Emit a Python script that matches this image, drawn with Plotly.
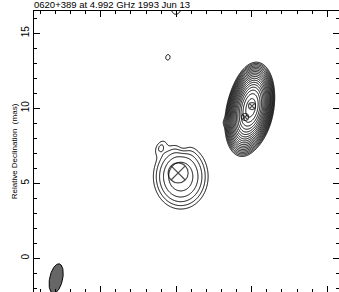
import numpy as np
import plotly.graph_objects as go

# ---- data: model components of the map (RA offset, Dec offset in mas, peak in units of lowest contour) ----
comp_ra   = [0.00, 0.40, 1.60, 4.70, 6.05, 4.55, 5.55, 5.00]
comp_dec  = [10.15, 9.45, 9.05, 5.45, 7.45, 7.30, 13.40, 16.65]
comp_peak = [560.0, 170.0, 0.9, 5.6, 1.0, -0.5, 1.12, 1.5]
comp_maj  = [1.95, 1.95, 0.70, 2.75, 1.00, 0.80, 0.90, 1.00]
comp_min  = [0.98, 0.98, 0.50, 2.30, 0.60, 0.70, 0.70, 0.80]
comp_pa   = [-8.0, -8.0, 90.0, 0.0, -30.0, 0.0, -10.0, -10.0]

# contour levels: lowest level 1, factor sqrt(2)
level_ratio = np.sqrt(2.0)
n_levels = 20

# model-fit component markers
mark_ra   = [4.87, -0.02, 0.44]
mark_dec  = [5.69, 10.15, 9.42]
mark_size = [20, 7, 7]

# restoring beam
beam_ra, beam_dec = 12.95, -1.35
beam_maj, beam_min, beam_pa = 2.0, 0.86, -12.0

title_text = "0620+389 at 4.992 GHz 1993 Jun 13"
ylabel_text = "Relative Declination  (mas)"

# ---- build brightness grid from components ----
ra = np.arange(-7.0, 16.0, 0.04)
dec = np.arange(-4.0, 18.0, 0.04)
RA, DEC = np.meshgrid(ra, dec)
field = np.zeros_like(RA)
k = 2.0 * np.sqrt(2.0 * np.log(2.0))
for r0, d0, p, mj, mn, pa in zip(comp_ra, comp_dec, comp_peak, comp_maj, comp_min, comp_pa):
    t = np.deg2rad(pa)
    dx = RA - r0
    dy = DEC - d0
    u = dx * np.sin(t) + dy * np.cos(t)   # along major axis (PA from north through east)
    v = dx * np.cos(t) - dy * np.sin(t)
    sj, sn = mj / k, mn / k
    field += p * np.exp(-0.5 * ((u / sj) ** 2 + (v / sn) ** 2))
z = np.log(np.clip(field, 1e-9, None)) / np.log(level_ratio)

fig = go.Figure()
fig.add_trace(go.Contour(
    x=ra, y=dec, z=z,
    contours=dict(start=0, end=n_levels - 1, size=1, coloring="lines"),
    line=dict(color="black", width=1),
    colorscale=[[0, "black"], [1, "black"]],
    showscale=False, hoverinfo="skip",
))

# beam ellipse
th = np.linspace(0, 2 * np.pi, 120)
t = np.deg2rad(beam_pa)
u = beam_maj / 2 * np.cos(th)
v = beam_min / 2 * np.sin(th)
bx = beam_ra + u * np.sin(t) + v * np.cos(t)
by = beam_dec + u * np.cos(t) - v * np.sin(t)
fig.add_trace(go.Scatter(x=bx, y=by, mode="lines", fill="toself",
                         fillcolor="#666666", line=dict(color="black", width=1),
                         hoverinfo="skip"))

fig.add_trace(go.Scatter(x=mark_ra, y=mark_dec, mode="markers",
                         marker=dict(symbol="circle-x-open", size=mark_size,
                                     color="black", line=dict(width=1.2, color="black")),
                         hoverinfo="skip"))

font = "Liberation Sans, Arial, sans-serif"
fig.update_layout(
    width=339, height=292,
    margin=dict(l=34, r=0, t=11, b=0, autoexpand=False),
    paper_bgcolor="white", plot_bgcolor="white",
    showlegend=False,
    font=dict(family=font, size=10, color="black"),
    xaxis=dict(range=[14.417, -5.78], showgrid=False, zeroline=False, automargin=False,
               showline=True, linecolor="black", linewidth=1, mirror="allticks",
               ticks="inside", ticklen=6, tickcolor="black", tick0=0, dtick=5,
               minor=dict(ticks="inside", ticklen=3, dtick=1, tick0=0, tickcolor="black"),
               showticklabels=False),
    yaxis=dict(range=[-2.247, 16.487], showgrid=False, zeroline=False, automargin=False,
               showline=True, linecolor="black", linewidth=1, mirror="allticks",
               ticks="inside", ticklen=6, tickcolor="black", tick0=0, dtick=5,
               minor=dict(ticks="inside", ticklen=3, dtick=1, tick0=0, tickcolor="black"),
               tickangle=-90, tickfont=dict(size=10, color="black"),
               title=dict(text=ylabel_text, font=dict(size=8, color="black"), standoff=1)),
    annotations=[dict(text=title_text, xref="paper", yref="paper", x=-0.004,
                      y=1.0 + 11.0 / 281.0, xanchor="left", yanchor="top",
                      showarrow=False, yshift=2, borderpad=0,
                      font=dict(size=9.5, color="black"))],
)

fig.write_html("out.html", config={"displayModeBar": False},
               post_script="document.body.style.margin='0px';")
